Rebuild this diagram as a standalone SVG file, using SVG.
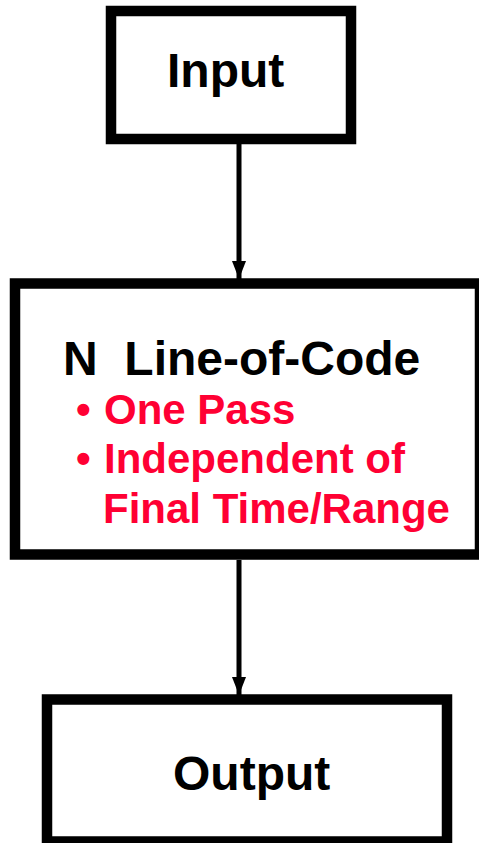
<svg xmlns="http://www.w3.org/2000/svg" width="479" height="843" viewBox="0 0 479 843">
<style>
.box{fill:#fff;stroke:#000;stroke-width:10.5}
.t{font-family:"Liberation Sans",Arial,sans-serif;font-weight:bold;font-size:48px;fill:#000}
.r{font-family:"Liberation Sans",Arial,sans-serif;font-weight:bold;font-size:42px;fill:#FF0033}
.c{stroke:#000;stroke-width:5;fill:none}
</style>
<defs>
<marker id="ah" markerUnits="userSpaceOnUse" markerWidth="18" markerHeight="14" refX="18" refY="7" orient="auto">
<path d="M0,0 L18,7 L0,14 Z" fill="#000"/>
</marker>
</defs>
<rect width="479" height="843" fill="#fff"/>
<g id="connectors">
<line class="c" x1="239" y1="144" x2="239" y2="279" marker-end="url(#ah)"/>
<line class="c" x1="239" y1="560" x2="239" y2="695" marker-end="url(#ah)"/>
</g>
<g id="input">
<rect class="box" x="111" y="11" width="240" height="128"/>
<text class="t" x="167" y="87">Input</text>
</g>
<g id="process">
<rect class="box" x="15" y="283.5" width="465" height="271"/>
<text class="t" x="63" y="375" xml:space="preserve">N  Line-of-Code</text>
<text class="r" x="76" y="424">•</text>
<text class="r" x="104" y="424">One Pass</text>
<text class="r" x="76" y="473">•</text>
<text class="r" x="104" y="473">Independent of</text>
<text class="r" x="103" y="523">Final Time/Range</text>
</g>
<g id="output">
<rect class="box" x="47" y="699.5" width="400" height="142"/>
<text class="t" x="173" y="790">Output</text>
</g>
</svg>
